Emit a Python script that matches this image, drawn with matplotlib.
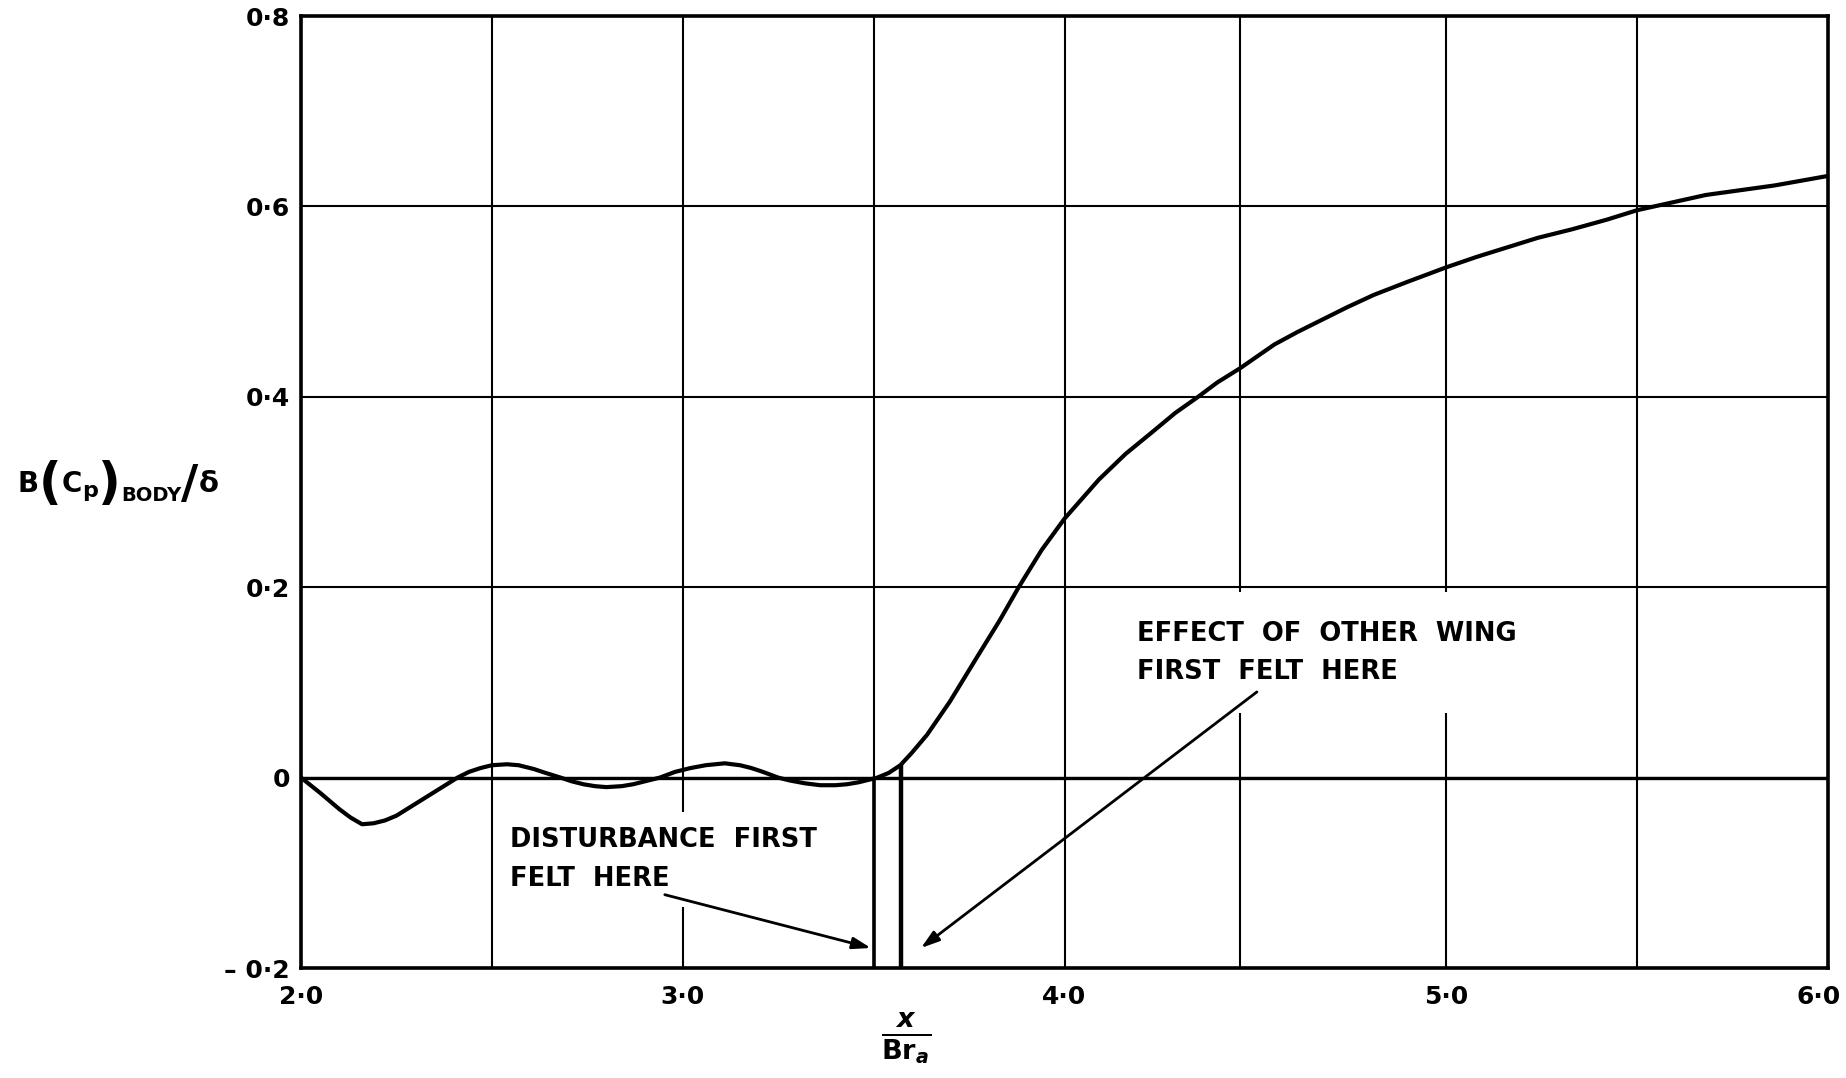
import matplotlib
matplotlib.use("Agg")
import matplotlib.pyplot as plt
from matplotlib.ticker import FixedLocator
from matplotlib.transforms import ScaledTranslation

# ---------------- data ----------------
x_curve = [2.00, 2.05, 2.10, 2.13, 2.16, 2.19, 2.22, 2.25, 2.29, 2.35, 2.41, 2.44, 2.47,
           2.50, 2.54, 2.57, 2.61, 2.64, 2.68, 2.71, 2.74, 2.77, 2.80, 2.84, 2.87, 2.90,
           2.94, 2.98, 3.02, 3.06, 3.11, 3.15, 3.18, 3.21, 3.25, 3.28, 3.32, 3.36, 3.40,
           3.43, 3.46, 3.49, 3.51, 3.54, 3.57, 3.60, 3.64, 3.70, 3.77, 3.83, 3.88, 3.94,
           4.00, 4.09, 4.16, 4.23, 4.29, 4.35, 4.40, 4.46, 4.55, 4.61, 4.67, 4.74, 4.81,
           4.90, 5.00, 5.08, 5.16, 5.24, 5.33, 5.42, 5.50, 5.59, 5.68, 5.77, 5.86, 5.93,
           6.00]
y_curve = [0.000, -0.016, -0.033, -0.042, -0.049, -0.048, -0.045, -0.040, -0.030, -0.015, 0.000, 0.006, 0.010,
           0.013, 0.014, 0.013, 0.009, 0.005, 0.000, -0.004, -0.007, -0.009, -0.010, -0.009, -0.007, -0.004,
           0.000, 0.006, 0.010, 0.013, 0.015, 0.013, 0.010, 0.006, 0.000, -0.003, -0.006, -0.008, -0.008,
           -0.007, -0.005, -0.002, 0.000, 0.005, 0.013, 0.026, 0.045, 0.080, 0.126, 0.165, 0.200, 0.239,
           0.272, 0.313, 0.340, 0.363, 0.383, 0.400, 0.415, 0.430, 0.455, 0.468, 0.480, 0.494, 0.507,
           0.521, 0.536, 0.547, 0.557, 0.567, 0.576, 0.586, 0.596, 0.604, 0.612, 0.617, 0.622, 0.627,
           0.632]

x_ticks = [2.0, 3.0, 4.0, 5.0, 6.0]
x_tick_labels = ["2·0", "3·0", "4·0", "5·0", "6·0"]
x_minor_grid = [2.5, 3.5, 4.46, 5.5]
y_ticks = [-0.2, 0.0, 0.2, 0.4, 0.6, 0.8]
y_tick_labels = ["– 0·2", "0", "0·2", "0·4", "0·6", "0·8"]

disturbance_x = 3.5        # disturbance first felt
other_wing_x = 3.573       # effect of other wing first felt
other_wing_top = 0.014

label1 = "DISTURBANCE  FIRST\nFELT  HERE"
label1_pos = (2.547, -0.086)
arrow1_from = (2.953, -0.123)
arrow1_to = (3.493, -0.179)

label2 = "EFFECT  OF  OTHER  WING\nFIRST  FELT  HERE"
label2_pos = (4.19, 0.131)
arrow2_from = (4.504, 0.090)
arrow2_to = (3.624, -0.179)

# y label pieces: (text, fontsize, baseline shift in px)
ylabel_parts = [("B", 20, 0), ("(", 36, -6), ("C", 20, 0), ("p", 16, -5),
                (")", 36, -6), ("BODY", 14, -9), ("/", 34, -6), ("δ", 21, 0)]

# ---------------- style ----------------
plt.rcParams['font.family'] = ['DejaVu Sans']
plt.rcParams['mathtext.fontset'] = 'custom'
plt.rcParams['mathtext.rm'] = 'DejaVu Sans:bold'
plt.rcParams['mathtext.bf'] = 'DejaVu Sans:bold'
plt.rcParams['mathtext.sf'] = 'DejaVu Sans:bold'
plt.rcParams['mathtext.it'] = 'DejaVu Sans:italic:bold'

W, H = 1846, 1078
fig = plt.figure(figsize=(W / 100, H / 100), dpi=100)
ax = fig.add_axes([301 / W, 110 / H, 1527 / W, 952 / H])
ax.set_xlim(2.0, 6.0)
ax.set_ylim(-0.2, 0.8)

ax.set_xticks(x_ticks)
ax.set_xticklabels(x_tick_labels)
ax.xaxis.set_minor_locator(FixedLocator(x_minor_grid))
ax.set_yticks(y_ticks)
ax.set_yticklabels(y_tick_labels)
ax.tick_params(which='both', length=0)
ax.tick_params(axis='x', pad=12, labelsize=18)
ax.tick_params(axis='y', pad=8, labelsize=18)
for lab in ax.get_xticklabels() + ax.get_yticklabels():
    lab.set_fontweight('bold')
# keep the last x label inside the figure edge
last = ax.xaxis.get_major_ticks()[-1].label1
last.set_transform(last.get_transform() + ScaledTranslation(-9 / 100, 0, fig.dpi_scale_trans))

ax.grid(True, which='both', axis='x', color='black', lw=1.5)
ax.grid(True, which='major', axis='y', color='black', lw=1.5)
ax.axhline(0.0, color='black', lw=2.4, zorder=2)
for s in ax.spines.values():
    s.set_linewidth(2.6)
    s.set_color('black')

ax.plot(x_curve, y_curve, color='black', lw=3.0, zorder=4,
        solid_capstyle='round', solid_joinstyle='round')

ax.vlines(disturbance_x, -0.2, 0.0, color='black', lw=2.6, zorder=4)
ax.vlines(other_wing_x, -0.2, other_wing_top, color='black', lw=3.2, zorder=4)

txt_kw = dict(ha='left', va='center', fontsize=18.5, fontweight='bold', linespacing=1.62,
              zorder=3)
ax.text(*label1_pos, label1,
        bbox=dict(boxstyle='square,pad=0.6', fc='white', ec='none'), **txt_kw)
ax.text(*label2_pos, label2,
        bbox=dict(boxstyle='square,pad=1.1', fc='white', ec='none'), **txt_kw)

arrow_kw = dict(arrowstyle='-|>,head_length=1.1,head_width=0.35', color='black',
                lw=2.0, shrinkA=0, shrinkB=0)
ax.annotate('', xy=arrow1_to, xytext=arrow1_from, arrowprops=arrow_kw, zorder=5)
ax.annotate('', xy=arrow2_to, xytext=arrow2_from, arrowprops=arrow_kw, zorder=5)

# y label built from pieces, laid out left to right
renderer = fig.canvas.get_renderer()
x_px = 18.0
base_px = H - 492.0
for txt, fs, dy in ylabel_parts:
    t = fig.text(x_px / W, (base_px + dy) / H, txt, ha='left', va='baseline',
                 fontsize=fs, fontweight='bold')
    bb = t.get_window_extent(renderer)
    x_px += bb.width

fig.text(906 / W, 1 - 1038 / H, r'$\frac{x}{\mathrm{Br}_{a}}$',
         ha='center', va='center', fontsize=28)

fig.savefig('out.png', dpi=100, facecolor='white')
